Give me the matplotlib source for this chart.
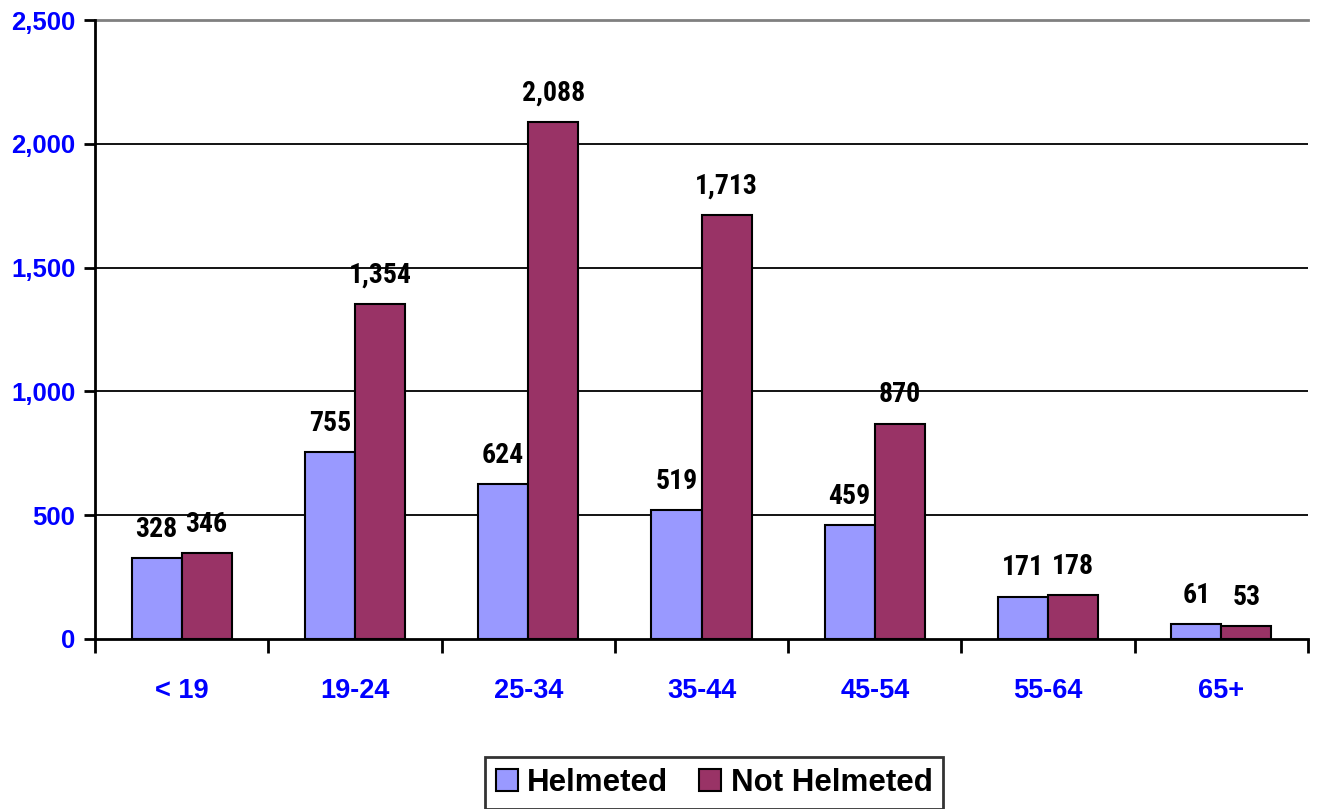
import matplotlib
matplotlib.use("Agg")
import matplotlib.pyplot as plt
from matplotlib import font_manager as fm
import numpy as np

categories = ["< 19", "19-24", "25-34", "35-44", "45-54", "55-64", "65+"]
helmeted = [328, 755, 624, 519, 459, 171, 61]
not_helmeted = [346, 1354, 2088, 1713, 870, 178, 53]
yticks = [0, 500, 1000, 1500, 2000, 2500]
ytick_labels = ["0", "500", "1,000", "1,500", "2,000", "2,500"]

names = {f.name for f in fm.fontManager.ttflist}
main_font = "Liberation Sans" if "Liberation Sans" in names else "DejaVu Sans"

def wnum(wt):
    if isinstance(wt, (int, float)):
        return wt
    return {"bold": 700, "heavy": 800, "black": 900, "semibold": 600, "demibold": 600}.get(str(wt).lower(), 400)

narrow_font = main_font
for n in ["Roboto Condensed", "Arimo Narrow", "PT Sans Narrow", "Fira Sans Condensed", "Barlow Semi Condensed", "Archivo Narrow"]:
    if any(f.name == n and wnum(f.weight) >= 700 for f in fm.fontManager.ttflist):
        narrow_font = n
        break

fig = plt.figure(figsize=(13.21, 8.09), dpi=100)
ax = fig.add_axes([95/1321, 1-639/809, (1308-95)/1321, (639-20)/809])

x = np.arange(len(categories))
w = 0.289
c1 = "#9999FF"
c2 = "#993366"
b1 = ax.bar(x - w/2, helmeted, w, color=c1, edgecolor="black", linewidth=1.5, zorder=3, label="Helmeted")
b2 = ax.bar(x + w/2, not_helmeted, w, color=c2, edgecolor="black", linewidth=1.5, zorder=3, label="Not Helmeted")

ax.set_xlim(-0.5, len(categories) - 0.5)
ax.set_ylim(0, 2500)
ax.set_yticks(yticks)
ax.set_yticklabels(ytick_labels, fontsize=18.5, fontweight="bold", color="#0000FF", family=main_font)
for yv in yticks[1:-1]:
    ax.axhline(yv, color="black", linewidth=1.3, zorder=1)
ax.axhline(2500, color="#808080", linewidth=2, zorder=1, clip_on=False)

ax.set_xticks(np.arange(len(categories) + 1) - 0.5, minor=True)
ax.set_xticks(x)
ax.set_xticklabels(categories, fontsize=19.5, fontweight="bold", color="#0000FF", family=main_font)
ax.tick_params(axis="x", which="major", length=0, pad=28)
ax.tick_params(axis="x", which="minor", length=10, width=2, color="black", direction="out")
ax.tick_params(axis="y", length=8, width=2, direction="out", pad=6)

for s in ["top", "right"]:
    ax.spines[s].set_visible(False)
ax.spines["left"].set_linewidth(2)
ax.spines["bottom"].set_linewidth(2)

def fmt(v):
    return f"{v:,}"

for bars, vals in ((b1, helmeted), (b2, not_helmeted)):
    for r, v in zip(bars, vals):
        ax.annotate(fmt(v), (r.get_x() + r.get_width()/2, v), xytext=(0, 11),
                    textcoords="offset points", ha="center", va="bottom",
                    fontsize=20, fontweight="bold", family=narrow_font, color="black")

leg = fig.legend(handles=[b1, b2], loc="center", bbox_to_anchor=(714/1321, 1-783/809),
                 ncol=2, frameon=True, fancybox=False, edgecolor="black",
                 prop={"family": main_font, "weight": "bold", "size": 22.5},
                 handlelength=0.7, handleheight=0.7, handletextpad=0.3, columnspacing=1.0,
                 borderpad=0.35)
leg.get_frame().set_linewidth(2)

fig.savefig("out.png", dpi=100)
